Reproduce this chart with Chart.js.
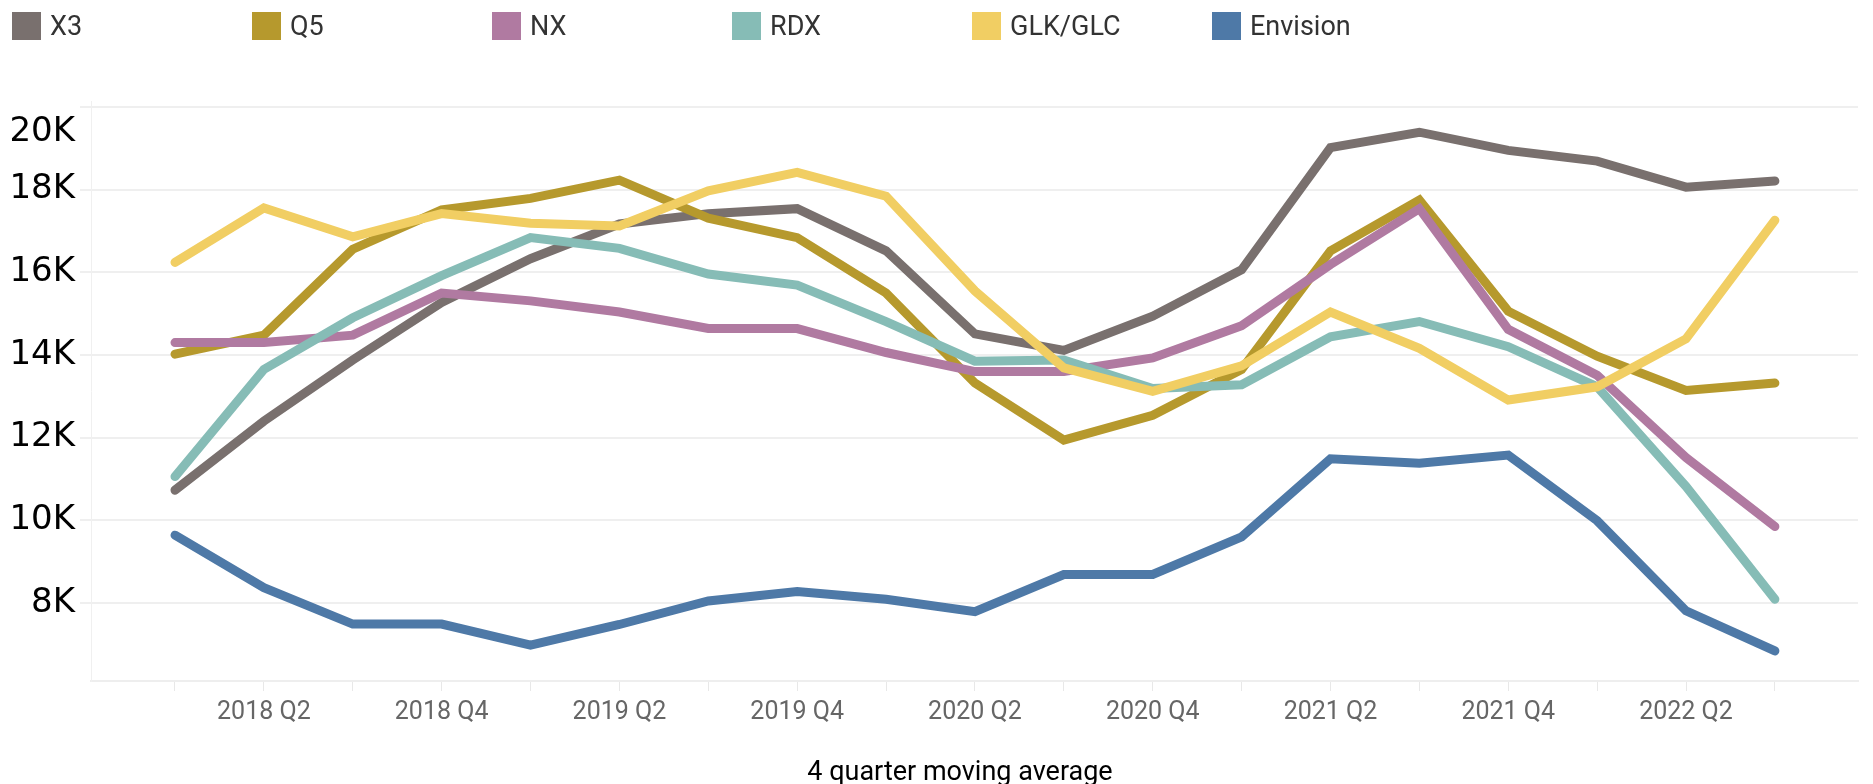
<!DOCTYPE html>
<html>
<head>
<meta charset="utf-8">
<script src="https://cdn.jsdelivr.net/npm/chart.js@4/dist/chart.umd.min.js"></script>
<style>
  html, body { margin: 0; padding: 0; background: #fff; }
  #wrap { position: relative; width: 1873px; height: 784px; overflow: hidden; }
  #chart { position: absolute; left: 0; top: 0; }
  .leg { position: absolute; top: 12px; height: 28px; display: flex; align-items: center;
         font-family: Roboto, sans-serif; font-size: 27px; color: #333; white-space: nowrap; }
  .leg .sw { width: 29px; height: 28px; margin-right: 9px; flex: none; }
  #xtitle { position: absolute; top: 755px; left: 760px; width: 400px; text-align: center;
            font-family: Roboto, sans-serif; font-size: 27px; color: #000; line-height: 32px; }
</style>
</head>
<body>
<div id="wrap">
  <canvas id="chart" width="1873" height="784"></canvas>
  <div id="legend"></div>
  <div id="xtitle">4 quarter moving average</div>
</div>
<script>
// ---- data ----
const quarters = ['2018 Q1','2018 Q2','2018 Q3','2018 Q4','2019 Q1','2019 Q2','2019 Q3','2019 Q4',
                  '2020 Q1','2020 Q2','2020 Q3','2020 Q4','2021 Q1','2021 Q2','2021 Q3','2021 Q4',
                  '2022 Q1','2022 Q2','2022 Q3'];
const seriesNames = ['X3','Q5','NX','RDX','GLK/GLC','Envision'];
const seriesColors = ['#79706e','#b6992d','#b07aa1','#86bcb6','#f1ce63','#4e79a7'];
const x3 = [10730,12400,13880,15270,16330,17170,17420,17540,16520,14510,14110,14940,16060,19020,19390,18950,18690,18060,18210];
const q5 = [14020,14480,16560,17510,17790,18230,17310,16840,15500,13320,11940,12540,13650,16520,17750,15060,13970,13140,13320];
const nx = [14300,14300,14480,15500,15310,15040,14640,14640,14060,13600,13600,13930,14710,16190,17540,14620,13510,11520,9850];
const rdx = [11060,13650,14900,15920,16840,16580,15960,15690,14810,13850,13880,13190,13280,14440,14810,14200,13230,10820,8090];
const glk = [16240,17560,16860,17420,17190,17120,17970,18420,17840,15550,13690,13120,13740,15040,14160,12910,13230,14390,17260];
const envision = [9640,8370,7490,7490,6980,7480,8050,8280,8090,7790,8690,8690,9600,11490,11380,11580,9990,7810,6840];
const yTicks = [8000,10000,12000,14000,16000,18000,20000];
const seriesValues = [x3, q5, nx, rdx, glk, envision];

const fmtK = v => (v / 1000) + 'K';

// ---- legend (HTML) ----
const legend = document.getElementById('legend');
seriesNames.forEach((name, i) => {
  const d = document.createElement('div');
  d.className = 'leg';
  d.style.left = (12 + i * 240) + 'px';
  d.innerHTML = '<span class="sw" style="background:' + seriesColors[i] + '"></span><span>' + name + '</span>';
  legend.appendChild(d);
});

const datasets = seriesNames.map((name, i) => ({
  label: name,
  data: seriesValues[i].map((v, k) => ({ x: k, y: v })),
  borderColor: seriesColors[i],
  backgroundColor: seriesColors[i],
  borderWidth: 9,
  borderCapStyle: 'round',
  borderJoinStyle: 'miter',
  pointRadius: 0,
  tension: 0,
  fill: false,
  order: seriesNames.length - i
}));

const topLabelPlugin = {
  id: 'topLabel',
  afterDraw(chart) {
    const ys = chart.scales.y;
    const top = yTicks[yTicks.length - 1];
    const ctx = chart.ctx;
    ctx.save();
    ctx.font = '34px "DejaVu Sans"';
    ctx.fillStyle = '#000';
    ctx.textAlign = 'right';
    ctx.textBaseline = 'middle';
    ctx.fillText(fmtK(top), ys.right - 16, ys.getPixelForValue(top) + 25);
    ctx.restore();
  }
};

new Chart(document.getElementById('chart'), {
  type: 'line',
  data: { datasets },
  plugins: [topLabelPlugin],
  options: {
    responsive: false,
    animation: false,
    events: [],
    layout: { padding: { top: 101, right: 15, left: 0, bottom: 0 } },
    plugins: { legend: { display: false }, tooltip: { enabled: false }, title: { display: false } },
    scales: {
      x: {
        type: 'linear',
        min: -0.945,
        max: 18.935,
        afterFit: s => { s.height = 103; },
        afterBuildTicks: s => { s.ticks = quarters.map((_, i) => ({ value: i })); },
        grid: { drawOnChartArea: false, drawTicks: true, tickLength: 10, color: '#e8e8e8', lineWidth: 1 },
        border: { display: true, color: '#eeeeee', width: 2 },
        ticks: {
          autoSkip: false, maxRotation: 0, minRotation: 0, padding: 7,
          color: '#666',
          font: { family: 'Roboto', size: 25 },
          callback: v => (v % 2 === 1 ? quarters[v] : '')
        }
      },
      y: {
        type: 'linear',
        min: 6113,
        max: 20145,
        afterFit: s => { s.width = 91; },
        afterBuildTicks: s => { s.ticks = yTicks.map(v => ({ value: v })); },
        grid: { drawOnChartArea: true, drawTicks: true, tickLength: 11, color: '#efefef', lineWidth: 2 },
        border: { display: true, color: '#f0f0f0', width: 1 },
        ticks: {
          padding: 5,
          color: '#000',
          font: { family: 'DejaVu Sans', size: 34 },
          callback: v => (v === yTicks[yTicks.length - 1] ? '' : fmtK(v))
        }
      }
    }
  }
});
</script>
</body>
</html>
